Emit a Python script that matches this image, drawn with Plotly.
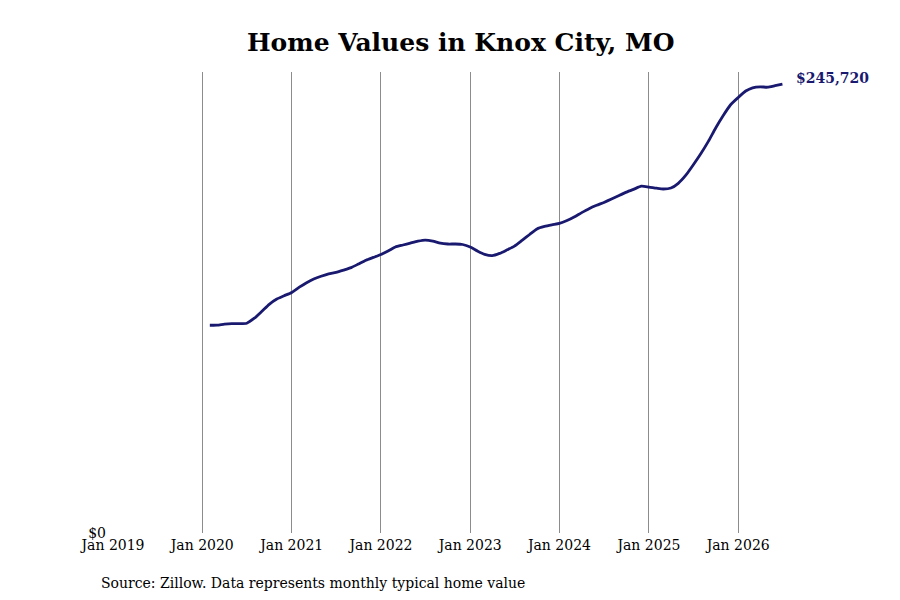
import plotly.graph_objects as go

# monthly typical home value, Feb 2020 .. Jul 2026
values = [
    113700, 113720, 114270, 114540, 114540, 114810, 117550, 121330, 125160, 128060, 129860,
    131670, 134570, 136870, 139000, 140540, 141850, 142620, 143870, 145240, 147210, 149290, 150830,
    152410, 154440, 156520, 157610, 158650, 159690, 160290, 159740, 158600, 158160, 158160, 157890,
    156520, 154220, 152520, 151810, 153010, 154980, 157010, 160130, 163360, 166420, 167790, 168670,
    169430, 171020, 172990, 175340, 177480, 179340, 180920, 182780, 184750, 186560, 188200, 189790,
    189300, 188690, 188260, 188800, 191380, 195810, 201390, 207520, 214310, 221640, 228480, 234390,
    238330, 241890, 243640, 244190, 243970, 244840, 245720,
]
tick_dates = ["2019-01-01", "2020-01-01", "2021-01-01", "2022-01-01", "2023-01-01",
              "2024-01-01", "2025-01-01", "2026-01-01"]
tick_labels = ["Jan 2019", "Jan 2020", "Jan 2021", "Jan 2022", "Jan 2023",
               "Jan 2024", "Jan 2025", "Jan 2026"]

# build monthly dates
dates = []
y, m = 2020, 2
for _ in values:
    dates.append(f"{y}-{m:02d}-01")
    m += 1
    if m > 12:
        m = 1
        y += 1

line_color = "#191970"
font_family = "DejaVu Serif"

fig = go.Figure()
fig.add_trace(go.Scatter(
    x=dates, y=values, mode="lines",
    line=dict(color=line_color, width=2.8, shape="spline", smoothing=0.6),
    hoverinfo="skip", showlegend=False,
))

fig.add_annotation(
    x=dates[-1], y=values[-1], text=f"<b>${values[-1]:,}</b>",
    showarrow=False, xanchor="left", yanchor="middle", xshift=12, yshift=6,
    font=dict(family=font_family, size=14, color=line_color),
)

fig.add_annotation(
    x=0, y=0, xref="paper", yref="paper", text="Source: Zillow. Data represents monthly typical home value",
    showarrow=False, xanchor="left", yanchor="top", xshift=-14, yshift=-40,
    font=dict(family=font_family, size=14, color="black"),
)

fig.update_layout(
    width=900, height=600,
    margin=dict(l=105, r=118, t=64, b=75),
    paper_bgcolor="white", plot_bgcolor="white",
    font=dict(family=font_family, size=14, color="black"),
    title=dict(text="<b>Home Values in Knox City, MO</b>", x=0.503, xanchor="center",
               y=0.943, yanchor="middle", font=dict(family=font_family, size=25, color="black")),
    xaxis=dict(
        type="date", range=["2019-01-01", "2026-08-01"],
        tickvals=tick_dates, ticktext=tick_labels,
        showgrid=True, gridcolor="#8c8c8c", gridwidth=1,
        showline=False, zeroline=False, ticks="",
        ticklabelstandoff=2,
        tickfont=dict(family=font_family, size=14, color="black"),
    ),
    yaxis=dict(
        range=[0, 252300], tickvals=[0], ticktext=["$0"],
        showgrid=False, zeroline=False, showline=False, ticks="",
        ticklabelstandoff=6,
        tickfont=dict(family=font_family, size=14, color="black"),
    ),
)

fig.write_html("out.html")
